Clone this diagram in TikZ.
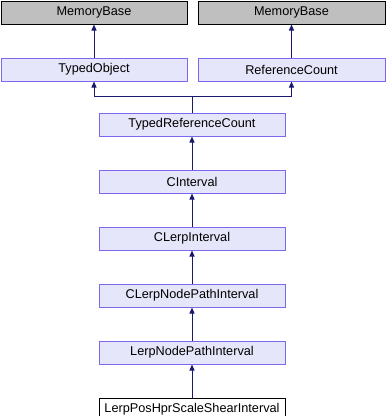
\documentclass[tikz,border=0pt]{standalone}
\usepackage{fontspec}
\setmainfont{Liberation Sans}
\usetikzlibrary{positioning,arrows.meta}
\definecolor{extfill}{HTML}{BFBFBF}
\definecolor{clsfill}{HTML}{E6E6FA}
\definecolor{clsborder}{HTML}{7B68EE}
\definecolor{edgeblue}{HTML}{191970}
\begin{document}
\begin{tikzpicture}[x=1pt,y=1pt,node distance=33pt,
    cls/.style={rectangle, draw=clsborder, fill=clsfill, line width=1pt,
      minimum width=186pt, minimum height=23pt, inner sep=0pt,
      font=\fontsize{12.7}{14}\selectfont},
    ext/.style={cls, draw=black, fill=extfill},
    leaf/.style={cls, draw=black, fill=white},
    inh/.style={draw=edgeblue, line width=1pt, -{Triangle[width=5pt,length=6pt]}}]
    \useasboundingbox (0,0) rectangle (386,-416);

    % External bases
    \node[ext, anchor=north west, minimum width=186pt] (mbaseleft) at (0.5,-0.5) {MemoryBase};
    \node[ext, anchor=north east, minimum width=187pt] (mbaseright) at (385.5,-0.5) {MemoryBase};

    % Typed object / reference count
    \node[cls, minimum width=186pt, below=of mbaseleft] (typedobj) {TypedObject};
    \node[cls, minimum width=187pt, below=of mbaseright] (refcount) {ReferenceCount};

    % Interval chain
    \node[cls, anchor=north] (typedrc) at (192,-112.5) {TypedReferenceCount};
    \node[cls, below=of typedrc] (cinterval) {CInterval};
    \node[cls, below=of cinterval] (clerp) {CLerpInterval};
    \node[cls, below=of clerp] (clerpnp) {CLerpNodePathInterval};
    \node[cls, below=of clerpnp] (lerpnp) {LerpNodePathInterval};
    \node[leaf, below=of lerpnp] (lerpshear) {LerpPosHprScaleShearInterval};

    % Inheritance
    \coordinate (join) at (typedrc.north |- 0,-96);
    \draw[edgeblue, line width=1pt] (typedrc) -- (join);
    \draw[inh] (join) -| (typedobj.south);
    \draw[inh] (join) -| (refcount.south);
    \draw[inh] (typedobj) -- (mbaseleft);
    \draw[inh] (refcount) -- (mbaseright);
    \draw[inh] (cinterval) -- (typedrc);
    \draw[inh] (clerp) -- (cinterval);
    \draw[inh] (clerpnp) -- (clerp);
    \draw[inh] (lerpnp) -- (clerpnp);
    \draw[inh] (lerpshear) -- (lerpnp);
\end{tikzpicture}
\end{document}
